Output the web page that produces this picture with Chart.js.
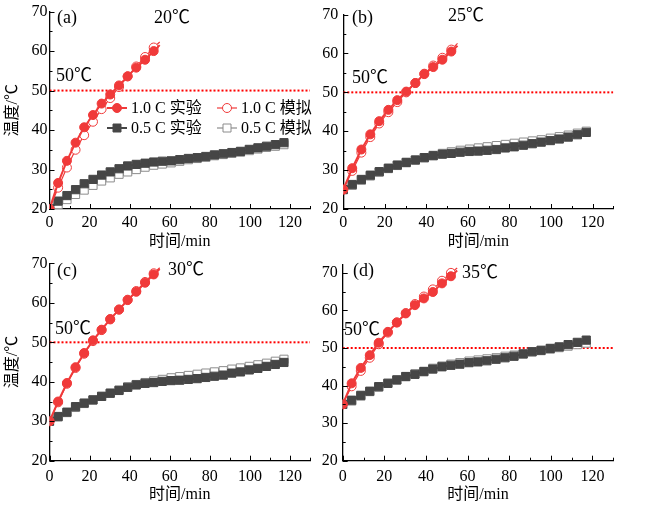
<!DOCTYPE html>
<html>
<head>
<meta charset="utf-8">
<script src="https://cdn.jsdelivr.net/npm/chart.js@4/dist/chart.umd.min.js"></script>
<style>
  body { margin: 0; background: #fff; width: 650px; height: 508px; position: relative; overflow: hidden; }
  canvas { position: absolute; }
  .note { position: absolute; font: 18px "Liberation Serif", "Noto Sans CJK SC", serif; line-height: 1; white-space: nowrap; color: #000; }
</style>
</head>
<body>
<canvas id="pa" width="325" height="250" style="left:0;top:0"></canvas>
<canvas id="pb" width="340" height="250" style="left:310px;top:0"></canvas>
<canvas id="pc" width="325" height="258" style="left:0;top:250px"></canvas>
<canvas id="pd" width="340" height="258" style="left:310px;top:250px"></canvas>

<div class="note" style="left:57px;top:8px">(a)</div>
<div class="note" style="left:154px;top:8px">20℃</div>
<div class="note" style="left:56px;top:66px">50℃</div>
<div class="note" style="left:352px;top:8px">(b)</div>
<div class="note" style="left:448px;top:6px">25℃</div>
<div class="note" style="left:352px;top:68px">50℃</div>
<div class="note" style="left:57px;top:261px">(c)</div>
<div class="note" style="left:168px;top:260px">30℃</div>
<div class="note" style="left:55px;top:319px">50℃</div>
<div class="note" style="left:353px;top:261px">(d)</div>
<div class="note" style="left:462px;top:263px">35℃</div>
<div class="note" style="left:344px;top:320px">50℃</div>

<script>
// time axis (min)
const t10 = [0, 4.3, 8.7, 13, 17.3, 21.7, 26, 30.3, 34.7, 39, 43.3, 47.7, 52, 55];
const t05 = [0, 4.3, 8.7, 13, 17.3, 21.7, 26, 30.3, 34.7, 39, 43.3, 47.7, 52, 56.3, 60.7,
  65, 69.3, 73.7, 78, 82.3, 86.7, 91, 95.3, 99.7, 104, 108.3, 112.7, 117];

// (a) 20℃
const exp10a = [20, 26.6, 32.2, 36.8, 40.7, 43.8, 46.7, 49.0, 51.3, 53.6, 55.8, 57.8, 60.0, 61.5];
const sim10a = [20, 25.4, 30.5, 35.0, 38.7, 42.1, 45.3, 48.1, 50.9, 53.6, 56.1, 58.5, 60.9, 62.3];
const exp05a = [20, 22.0, 23.4, 24.9, 26.4, 27.5, 28.6, 29.4, 30.2, 30.9, 31.3, 31.6, 31.9, 32.1,
  32.2, 32.5, 32.8, 33.0, 33.3, 33.7, 34.0, 34.3, 34.6, 35.1, 35.5, 35.9, 36.3, 36.8];
const sim05a = [20, 21.1, 22.4, 23.7, 24.8, 26.0, 27.1, 27.9, 28.8, 29.4, 30.0, 30.6, 31.1, 31.4,
  31.7, 32.1, 32.5, 32.8, 33.1, 33.5, 33.8, 34.1, 34.4, 34.8, 35.2, 35.6, 35.9, 36.3];

// (b) 25℃
const exp10b = [25, 30.5, 35.3, 39.2, 42.6, 45.5, 48.0, 50.2, 52.4, 54.7, 56.5, 58.4, 60.5, 62.0];
const sim10b = [25, 29.8, 34.5, 38.5, 42.0, 44.9, 47.5, 50.0, 52.4, 54.8, 56.9, 58.9, 61.0, 62.6];
const exp05b = [25, 26.3, 27.6, 28.7, 29.6, 30.5, 31.3, 32.0, 32.6, 33.2, 33.7, 34.1, 34.3, 34.6,
  34.8, 34.9, 35.1, 35.3, 35.7, 36.0, 36.4, 36.8, 37.2, 37.6, 38.0, 38.5, 39.1, 39.7];
const sim05b = [25, 26.1, 27.4, 28.5, 29.5, 30.4, 31.2, 31.9, 32.6, 33.2, 33.8, 34.3, 34.7, 35.1,
  35.4, 35.7, 36.0, 36.3, 36.6, 36.9, 37.2, 37.5, 37.8, 38.2, 38.6, 39.0, 39.5, 40.0];

// (c) 30℃
const exp10c = [30, 35.0, 39.7, 43.7, 47.3, 50.5, 53.2, 55.9, 58.3, 60.7, 62.8, 65.1, 67.2, 68.6];
const sim10c = [30, 34.8, 39.5, 43.5, 47.1, 50.3, 53.1, 55.8, 58.3, 60.8, 63.0, 65.3, 67.5, 68.9];
const exp05c = [30, 31.2, 32.3, 33.7, 34.6, 35.4, 36.3, 37.1, 37.8, 38.6, 39.2, 39.6, 39.8, 40.1,
  40.3, 40.4, 40.6, 40.8, 41.1, 41.4, 41.7, 42.2, 42.5, 43.0, 43.4, 43.9, 44.4, 44.9];
const sim05c = [30, 31.1, 32.2, 33.5, 34.5, 35.4, 36.3, 37.1, 37.9, 38.7, 39.3, 39.8, 40.2, 40.6,
  41.0, 41.3, 41.6, 41.9, 42.2, 42.5, 42.8, 43.2, 43.5, 43.9, 44.3, 44.7, 45.2, 45.7];

// (d) 35℃
const exp10d = [35, 40.6, 44.7, 48.1, 51.4, 54.3, 56.8, 59.2, 61.4, 63.2, 64.9, 67.2, 69.1, 70.6];
const sim10d = [35, 39.8, 43.9, 47.4, 51.0, 54.1, 56.8, 59.3, 61.7, 63.7, 65.6, 67.9, 70.0, 71.3];
const exp05d = [35, 36.1, 37.4, 38.5, 39.7, 40.6, 41.5, 42.4, 43.0, 43.7, 44.4, 45.0, 45.4, 45.7,
  46.1, 46.3, 46.6, 47.0, 47.4, 47.8, 48.4, 49.0, 49.4, 49.9, 50.3, 50.9, 51.5, 52.1];
const sim05d = [35, 35.9, 37.2, 38.4, 39.6, 40.6, 41.5, 42.4, 43.1, 43.8, 44.6, 45.2, 45.7, 46.1,
  46.5, 46.8, 47.1, 47.4, 47.8, 48.1, 48.5, 49.0, 49.3, 49.7, 50.1, 50.5, 50.9, 51.3];

const limitT = [0, 130];
const limitV = [50, 50];

const labels = ['1.0 C 实验', '1.0 C 模拟', '0.5 C 实验', '0.5 C 模拟'];

const RED = '#f03a3a';
const DARK = '#464646';
const GREY = '#8c8c8c';
const FONT = '"Liberation Serif", "Noto Sans CJK SC", serif';

function pts(t, v) {
  return t.map((x, i) => ({ x: x, y: v[i] }));
}

// ticks inside the frame, with minor ticks
const inwardTicks = {
  id: 'inwardTicks',
  afterDraw(chart) {
    const { ctx, chartArea: a, scales: { x, y } } = chart;
    ctx.save();
    ctx.strokeStyle = '#000';
    ctx.lineWidth = 1;
    ctx.beginPath();
    for (let v = 0; v <= 130; v += 10) {
      const px = Math.round(x.getPixelForValue(v)) + 0.5;
      const len = v % 20 === 0 ? 5 : 3;
      ctx.moveTo(px, a.bottom);
      ctx.lineTo(px, a.bottom - len);
    }
    for (let v = 20; v <= y.max + 0.01; v += 5) {
      const py = Math.round(y.getPixelForValue(v)) + 0.5;
      const len = v % 10 === 0 ? 5 : 3;
      ctx.moveTo(a.left, py);
      ctx.lineTo(a.left + len, py);
    }
    ctx.stroke();
    ctx.restore();
  }
};

// legend drawn inside panel (a)
const legendBox = {
  id: 'legendBox',
  afterDraw(chart, args, o) {
    if (!o.show) return;
    const ctx = chart.ctx;
    ctx.save();
    chart.data.datasets.slice(0, 4).forEach((ds, i) => {
      const lx = o.cols[i % 2];
      const ly = o.rows[Math.floor(i / 2)];
      ctx.strokeStyle = ds.borderColor;
      ctx.lineWidth = ds.borderWidth;
      ctx.beginPath();
      ctx.moveTo(lx, ly);
      ctx.lineTo(lx + 20, ly);
      ctx.stroke();
      ctx.fillStyle = ds.pointBackgroundColor;
      ctx.strokeStyle = ds.pointBorderColor;
      ctx.lineWidth = 1;
      ctx.beginPath();
      if (ds.pointStyle === 'rect') {
        ctx.rect(lx + 6, ly - 4, 8, 8);
      } else {
        ctx.arc(lx + 10, ly, 4.5, 0, Math.PI * 2);
      }
      ctx.fill();
      ctx.stroke();
      ctx.fillStyle = '#000';
      ctx.font = '16px ' + FONT;
      ctx.textBaseline = 'middle';
      ctx.fillText(ds.label, lx + 24, ly + 1);
    });
    ctx.restore();
  }
};

function series(label, t, v, color, fill, style, width) {
  const last = t.length - 1;
  return {
    label: label,
    data: pts(t, v),
    borderColor: color,
    borderWidth: width,
    pointStyle: style,
    pointBackgroundColor: fill,
    pointBorderColor: color,
    pointBorderWidth: 1,
    pointRadius: style === 'rect'
      ? 5.8
      : (c) => (t === t10 && c.dataIndex === last ? 0 : 4.5),
    tension: 0
  };
}

function panel(id, d, cfg) {
  new Chart(document.getElementById(id), {
    type: 'line',
    data: {
      datasets: [
        series(labels[0], t10, d[0], RED, RED, 'circle', 2),
        series(labels[1], t10, d[1], RED, '#fff', 'circle', 1.2),
        series(labels[2], t05, d[2], DARK, DARK, 'rect', 2),
        series(labels[3], t05, d[3], GREY, '#fff', 'rect', 1.2),
        {
          label: '50℃',
          data: pts(limitT, limitV),
          borderColor: '#ff0000',
          borderWidth: 2,
          borderDash: [2, 2],
          pointRadius: 0
        }
      ]
    },
    options: {
      responsive: false,
      animation: false,
      devicePixelRatio: 1,
      layout: { padding: { left: 0, top: cfg.top, right: cfg.right, bottom: 0 } },
      plugins: {
        legend: { display: false },
        tooltip: { enabled: false },
        legendBox: { show: !!cfg.legend, cols: [107, 217], rows: [108, 128] }
      },
      scales: {
        x: {
          type: 'linear',
          min: 0,
          max: 130,
          grid: { display: false, drawTicks: false },
          border: { display: true, color: '#000', width: 1.3 },
          ticks: {
            stepSize: 20, includeBounds: false, maxRotation: 0, padding: cfg.xpad,
            color: '#000', font: { family: FONT, size: 16 }
          },
          title: {
            display: true, text: '时间/min', color: '#000',
            font: { family: FONT, size: 16, lineHeight: 1 },
            padding: { top: 0, bottom: cfg.tpad }
          },
          afterFit: (s) => { s.height = cfg.xh; }
        },
        y: {
          type: 'linear',
          min: 20,
          max: cfg.ymax,
          grid: { display: false, drawTicks: false },
          border: { display: true, color: '#000', width: 1.3 },
          ticks: {
            stepSize: 10, includeBounds: false, padding: cfg.ypad,
            color: '#000', font: { family: FONT, size: 16 }
          },
          title: {
            display: !!cfg.ytitle, text: '温度/℃', color: '#000',
            font: { family: FONT, size: 16, lineHeight: 1 },
            padding: { top: 5, bottom: 0 }
          },
          afterFit: (s) => { s.width = cfg.yw; }
        }
      }
    },
    plugins: [inwardTicks, legendBox]
  });
}

panel('pa', [exp10a, sim10a, exp05a, sim05a],
  { top: 11, right: 15, xh: 41, yw: 49.5, ymax: 70, xpad: 4, tpad: 0, ypad: 2, ytitle: true, legend: true });
panel('pb', [exp10b, sim10b, exp05b, sim05b],
  { top: 11.5, right: 36.7, xh: 41, yw: 33.3, ymax: 70, xpad: 4, tpad: 0, ypad: 5 });
panel('pc', [exp10c, sim10c, exp05c, sim05c],
  { top: 13.4, right: 15, xh: 47.3, yw: 49.5, ymax: 70, xpad: 6, tpad: 5, ypad: 2, ytitle: true });
panel('pd', [exp10d, sim10d, exp05d, sim05d],
  { top: 13.3, right: 36.7, xh: 47.3, yw: 32.7, ymax: 72.2, xpad: 6, tpad: 5, ypad: 5 });
</script>
</body>
</html>
